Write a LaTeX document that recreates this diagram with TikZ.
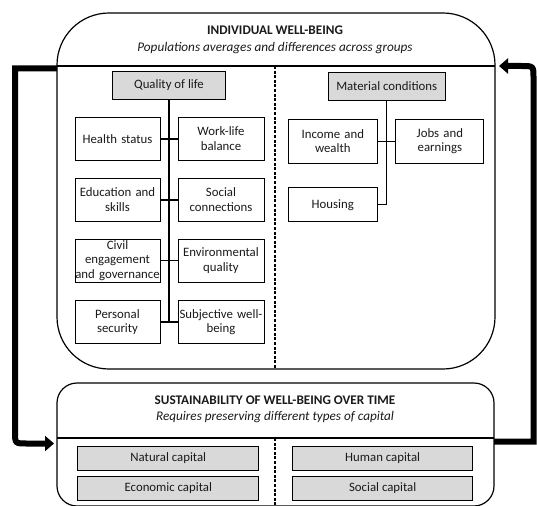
\documentclass[tikz,border=0pt]{standalone}
\usepackage{fontspec}
\setmainfont{Carlito}
\usetikzlibrary{arrows.meta}
\definecolor{boxgray}{HTML}{D9D9D9}
\definecolor{ink}{HTML}{1A1A1A}
\begin{document}
\begin{tikzpicture}[x=1pt,y=-1pt,
  txt/.style={font=\fontsize{12.8}{14.5}\selectfont, text=ink, align=center, inner sep=0pt},
  title/.style={txt, font=\fontsize{13.2}{15}\selectfont\bfseries},
  subtitle/.style={txt, font=\fontsize{13.2}{15}\selectfont\itshape},
  item/.style={txt, draw, line width=0.9pt, fill=white},
  head/.style={txt, draw, line width=0.9pt, fill=boxgray},
  frame/.style={line width=1.2pt},
  divider/.style={line width=1.1pt, dash pattern=on 3pt off 1.6pt},
  trunk/.style={line width=1.8pt},
  trunkthin/.style={line width=1.3pt},
  loop/.style={line width=6pt, -{Triangle[length=9pt,width=15pt]}}
]
\useasboundingbox (0,0) rectangle (537,505);

% ---- individual well-being frame ----
\draw[frame, rounded corners=52pt] (57,13) rectangle (495,369);
\draw[frame] (57,66) -- (495,66);
\draw[divider] (275,66) -- (275,369);
\node[title] (t1) at (275,30) {INDIVIDUAL WELL-BEING};
\node[subtitle] (s1) at (275,48) {Populations averages and differences across groups};

% ---- quality of life ----
\node[head, minimum width=113pt, minimum height=28pt] (qol) at (169,85) {Quality of life};
\node[item, text width=85pt, minimum height=43pt] (hs) at (117.5,138.7) {Health status};
\node[item, text width=86pt, minimum height=43pt] (wl) at (221,138.7) {Work-life\\balance};
\node[item, text width=85pt, minimum height=43pt] (ed) at (117.5,199.7) {Education and\\skills};
\node[item, text width=86pt, minimum height=43pt] (sc) at (221,199.7) {Social\\connections};
\node[item, text width=85pt, minimum height=43pt] (ce) at (117.5,260.5) {Civil\\engagement\\and governance};
\node[item, text width=86pt, minimum height=43pt] (eq) at (221,260.5) {Environmental\\quality};
\node[item, text width=85pt, minimum height=43pt] (ps) at (117.5,322) {Personal\\security};
\node[item, text width=86pt, minimum height=43pt] (sw) at (221,322) {Subjective well-\\being};
\coordinate (qend) at (qol.south |- ps.east);
\draw[trunk] (qol.south) -- (qend);
\draw[trunk] (hs.east) -- (wl.west);
\draw[trunk] (ed.east) -- (sc.west);
\draw[trunk] (ce.east) -- (eq.west);
\draw[trunk] (ps.east) -- (sw.west);

% ---- material conditions ----
\node[head, minimum width=117pt, minimum height=28pt] (mc) at (386.7,86) {Material conditions};
\node[item, text width=89pt, minimum height=44pt] (iw) at (332.8,141.3) {Income and\\wealth};
\node[item, text width=88pt, minimum height=44pt] (je) at (439.9,141.3) {Jobs and\\earnings};
\node[item, text width=89pt, minimum height=34pt] (ho) at (332.8,204.7) {Housing};
\coordinate (mend) at (mc.south |- ho.east);
\draw[trunkthin] (mc.south) -- (mend);
\draw[trunkthin] (iw.east) -- (je.west);
\draw[trunkthin] (ho.east) -- (mend);

% ---- sustainability frame ----
\draw[frame, rounded corners=20pt] (57,383) rectangle (494,506);
\draw[frame] (57,438) -- (494,438);
\draw[divider] (275,438) -- (275,506);
\node[title] (t2) at (275,400) {SUSTAINABILITY OF WELL-BEING OVER TIME};
\node[subtitle] (s2) at (275,417) {Requires preserving different types of capital};

\node[head, minimum width=181pt, minimum height=24pt] (nc) at (168.3,458) {Natural capital};
\node[head, minimum width=181pt, minimum height=24pt] (ec) at (168.3,488) {Economic capital};
\node[head, minimum width=180pt, minimum height=24pt] (hc) at (382.7,458) {Human capital};
\node[head, minimum width=180pt, minimum height=24pt] (sk) at (382.7,488) {Social capital};

% ---- feedback arrows between the two frames ----
\coordinate (topL) at (57,68.5);
\coordinate (botL) at (54,443.5);
\coordinate (botR) at (494,441.5);
\coordinate (topR) at (499,66);
\draw[loop] (topL) -- (15,68.5) -- (15,431.5) .. controls (15,443.5) .. (27,443.5) -- (botL);
\draw[loop] (botR) -- (533.5,441.5) -- (533.5,78) .. controls (533.5,66) .. (521.5,66) -- (topR);
\end{tikzpicture}
\end{document}
